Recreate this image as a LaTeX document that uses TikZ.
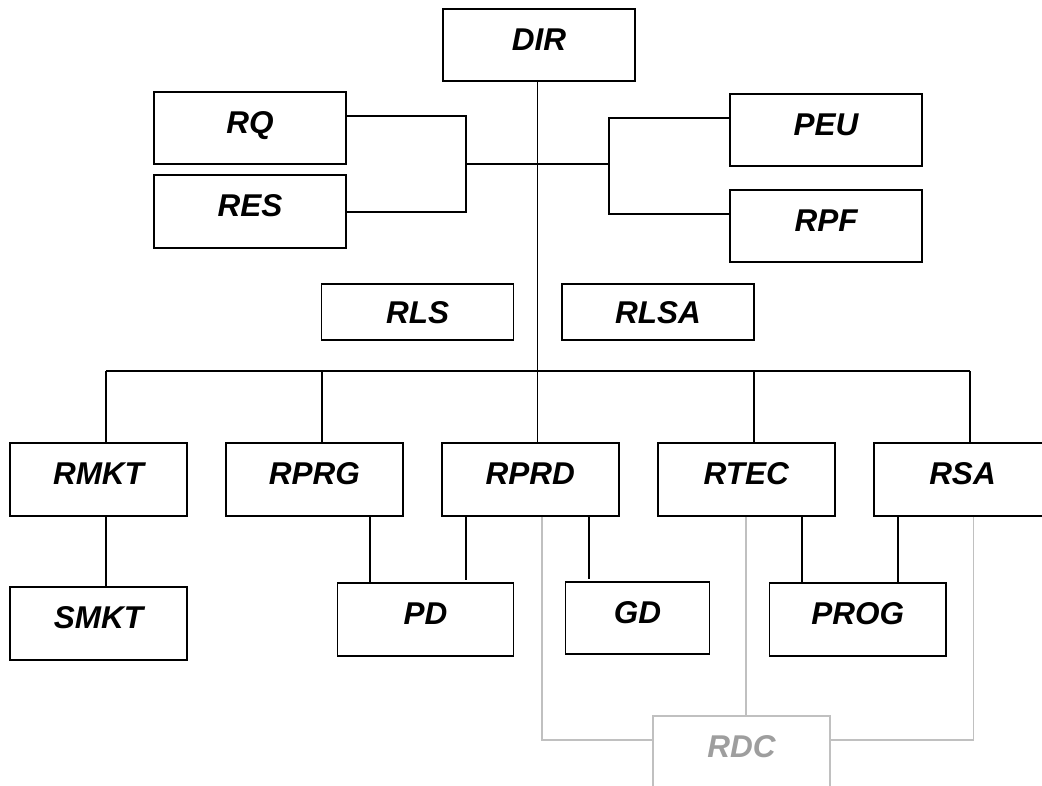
\documentclass[tikz,border=0pt]{standalone}
\usepackage{fontspec}
\setmainfont{Liberation Sans}
\definecolor{lgray}{RGB}{192,192,192}
\definecolor{tgray}{RGB}{158,158,158}
\tikzset{
  box/.style={draw=black, line width=1.6pt, inner sep=0pt, minimum width=192pt, minimum height=72pt,
    font=\fontsize{31.5}{37}\selectfont\bfseries\itshape, text height=22.5pt, text depth=12pt},
  wbox/.style={box, minimum width=177pt, minimum height=73pt},
  sbox/.style={box, minimum height=56pt, text depth=0pt},
  ln/.style={line width=1.6pt, black},
  gln/.style={line width=1.5pt, lgray},
}
\begin{document}
\begin{tikzpicture}[x=1pt, y=-1pt]
\useasboundingbox (0,0) rectangle (1042,785);
% top boxes
\node[box] (DIR) at (539,45) {DIR};
\node[box] (RQ) at (250,128) {RQ};
\node[box, minimum height=73pt] (RES) at (250,211.5) {RES};
\node[box] (PEU) at (826,130) {PEU};
\node[box] (RPF) at (826,226) {RPF};
\node[sbox] (RLS) at (417.6,312) {RLS};
\node[sbox] (RLSA) at (658,312) {RLSA};
% row boxes
\node[wbox] (RMKT) at (98.5,479.5) {RMKT};
\node[wbox] (RPRG) at (314.3,479.5) {RPRG};
\node[wbox] (RPRD) at (530.3,479.5) {RPRD};
\node[wbox] (RTEC) at (746.3,479.5) {RTEC};
\node[wbox] (RSA) at (962.5,479.5) {RSA};
% bottom boxes
\node[wbox] (SMKT) at (98.5,623.5) {SMKT};
\node[wbox, minimum width=176pt] (PD) at (425.5,619.3) {PD};
\node[box, minimum width=144pt] (GD) at (637.5,618) {GD};
\node[wbox, minimum width=176.6pt] (PROG) at (857.7,619.3) {PROG};
\node[wbox, draw=lgray, text=tgray] (RDC) at (741.5,752.5) {RDC};
% coordinates of the bus
\coordinate (busL) at (106,371);
\coordinate (busR) at (970,371);
\coordinate (hub) at (537.5,164);
% main trunk
\draw[ln] (DIR.south -| hub) -- (RPRD.north -| hub);
% staff brackets
\draw[ln] (RQ.east |- 0,116) -- (466,116) -- (466,212) -- (RES.east |- 0,212);
\draw[ln] (466,164) -- (hub) -- (609,164);
\draw[ln] (PEU.west |- 0,118) -- (609,118) -- (609,214) -- (RPF.west |- 0,214);
% bus
\draw[ln] (busL) -- (busR);
\draw[ln] (busL) -- (RMKT.north -| busL);
\draw[ln] (322,371) -- (RPRG.north -| 322,0);
\draw[ln] (754,371) -- (RTEC.north -| 754,0);
\draw[ln] (busR) -- (RSA.north -| busR);
% second level
\draw[ln] (RMKT.south -| 106,0) -- (SMKT.north -| 106,0);
\draw[ln] (RPRG.south -| 370,0) -- (PD.north -| 370,0);
\draw[ln] (RPRD.south -| 466,0) -- (466,580);
\draw[ln] (RPRD.south -| 589,0) -- (589,579);
\draw[ln] (RTEC.south -| 802,0) -- (PROG.north -| 802,0);
\draw[ln] (RSA.south -| 898,0) -- (PROG.north -| 898,0);
% gray links to RDC
\draw[gln] (RPRD.south -| 542,0) -- (542,740) -- (RDC.west |- 0,740);
\draw[gln] (RTEC.south -| 746,0) -- (RDC.north -| 746,0);
\draw[gln] (RSA.south -| 973.4,0) -- (973.4,740) -- (RDC.east |- 0,740);
\end{tikzpicture}
\end{document}
